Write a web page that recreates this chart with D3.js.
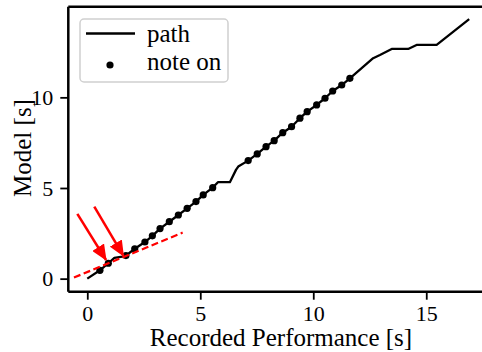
<!DOCTYPE html>
<html>
<head>
<meta charset="utf-8">
<script src="https://cdn.jsdelivr.net/npm/d3@7"></script>
<style>
  html, body { margin: 0; padding: 0; background: #fff; }
</style>
</head>
<body>
<div id="chart"></div>
<script>
// alignment path (recorded time -> model time)
const pathTime  = [0, 0.56, 0.93, 1.2, 1.55, 1.71, 2.10, 2.55, 2.88, 3.22, 3.63, 4.03, 4.42, 4.81, 5.13, 5.55,
                   5.78, 6.31, 6.58, 6.68, 7.12, 7.52, 7.91, 8.27, 8.65, 9.04, 9.41, 9.73, 10.15, 10.52, 10.86,
                   11.26, 11.62, 12.65, 12.95, 13.47, 14.2, 14.57, 15.46, 16.9];
const pathModel = [0, 0.46, 0.85, 1.15, 1.22, 1.27, 1.65, 2.02, 2.36, 2.76, 3.14, 3.51, 3.88, 4.25, 4.62, 5.02,
                   5.32, 5.32, 6.0, 6.18, 6.51, 6.88, 7.28, 7.61, 8.05, 8.38, 8.85, 9.21, 9.58, 9.95, 10.35,
                   10.68, 11.05, 12.16, 12.34, 12.67, 12.67, 12.89, 12.89, 14.31];

// note on events
const noteTime  = [0.56, 0.93, 1.71, 2.10, 2.55, 2.88, 3.22, 3.63, 4.03, 4.42, 4.81, 5.13, 5.55,
                   7.12, 7.52, 7.91, 8.27, 8.65, 9.04, 9.41, 9.73, 10.15, 10.52, 10.86, 11.26, 11.62];
const noteModel = [0.46, 0.85, 1.27, 1.65, 2.02, 2.36, 2.76, 3.14, 3.51, 3.88, 4.25, 4.62, 5.02,
                   6.51, 6.88, 7.28, 7.61, 8.05, 8.38, 8.85, 9.21, 9.58, 9.95, 10.35, 10.68, 11.05];

// red dashed tempo line
const tangentTime  = [-0.59, 4.22];
const tangentModel = [0.06, 2.54];

// red arrows: tail -> tip
const arrowTailTime  = [-0.44, 0.31];
const arrowTailModel = [3.57, 3.97];
const arrowTipTime   = [0.83, 1.6];
const arrowTipModel  = [1.03, 1.25];

const xTicks = [0, 5, 10, 15];
const yTicks = [0, 5, 10];

const width = 482, height = 352;
const plot = { left: 68.3, top: 6.7, bottom: 291.7, right: 488.4 };
const serif = '"Liberation Serif", "DejaVu Serif", serif';

const svg = d3.select('#chart').append('svg')
  .attr('width', width)
  .attr('height', height);

const x = d3.scaleLinear().domain([-0.84, 17.75]).range([plot.left, plot.right]);
const y = d3.scaleLinear().domain([-0.72, 15.0]).range([plot.bottom, plot.top]);

const defs = svg.append('defs');
defs.append('marker')
  .attr('id', 'head')
  .attr('markerUnits', 'userSpaceOnUse')
  .attr('viewBox', '0 0 16 14')
  .attr('refX', 15).attr('refY', 7)
  .attr('markerWidth', 16).attr('markerHeight', 14)
  .attr('orient', 'auto')
  .append('path')
  .attr('d', 'M0,0 L16,7 L0,14 Z')
  .attr('fill', '#ff0000');

// path line
const pts = pathTime.map((t, i) => [t, pathModel[i]]);
svg.append('path')
  .datum(pts)
  .attr('fill', 'none')
  .attr('stroke', '#000')
  .attr('stroke-width', 2.3)
  .attr('stroke-linejoin', 'round')
  .attr('d', d3.line().x(d => x(d[0])).y(d => y(d[1])));

// note on dots
svg.append('g').selectAll('circle')
  .data(noteTime.map((t, i) => [t, noteModel[i]]))
  .join('circle')
  .attr('cx', d => x(d[0]))
  .attr('cy', d => y(d[1]))
  .attr('r', 3.6)
  .attr('fill', '#000');

// dashed red line
svg.append('line')
  .attr('x1', x(tangentTime[0])).attr('y1', y(tangentModel[0]))
  .attr('x2', x(tangentTime[1])).attr('y2', y(tangentModel[1]))
  .attr('stroke', '#ff0000')
  .attr('stroke-width', 2.2)
  .attr('stroke-dasharray', '7,3.5');

// arrows
arrowTailTime.forEach((t, i) => {
  svg.append('line')
    .attr('x1', x(t)).attr('y1', y(arrowTailModel[i]))
    .attr('x2', x(arrowTipTime[i])).attr('y2', y(arrowTipModel[i]))
    .attr('stroke', '#ff0000')
    .attr('stroke-width', 2.5)
    .attr('marker-end', 'url(#head)');
});

// spines
svg.append('line').attr('x1', plot.left).attr('x2', width).attr('y1', plot.top).attr('y2', plot.top)
  .attr('stroke', '#000').attr('stroke-width', 2.5);

const xAxis = svg.append('g')
  .attr('transform', `translate(0,${plot.bottom})`)
  .call(d3.axisBottom(x).tickValues(xTicks).tickSize(8).tickFormat(d3.format('d')));
xAxis.attr('font-family', serif).attr('font-size', 22);
xAxis.select('.domain').remove();
xAxis.selectAll('line').attr('stroke', '#000').attr('stroke-width', 1.8);
xAxis.selectAll('text').attr('y', 29.5).attr('dy', 0).attr('fill', '#000');

const yAxis = svg.append('g')
  .attr('transform', `translate(${plot.left},0)`)
  .call(d3.axisLeft(y).tickValues(yTicks).tickSize(8).tickPadding(7).tickFormat(d3.format('d')));
yAxis.attr('font-family', serif).attr('font-size', 22);
yAxis.select('.domain').remove();
yAxis.selectAll('line').attr('stroke', '#000').attr('stroke-width', 1.8);
yAxis.selectAll('text').attr('dy', '0.33em').attr('fill', '#000');

svg.append('line').attr('x1', plot.left).attr('x2', width).attr('y1', plot.bottom).attr('y2', plot.bottom)
  .attr('stroke', '#000').attr('stroke-width', 2.5);
svg.append('line').attr('x1', plot.left).attr('x2', plot.left).attr('y1', plot.top).attr('y2', plot.bottom)
  .attr('stroke', '#000').attr('stroke-width', 2.5);

// axis labels
svg.append('text')
  .attr('x', 281).attr('y', 346)
  .attr('text-anchor', 'middle')
  .attr('font-family', serif).attr('font-size', 25)
  .text('Recorded Performance [s]');

svg.append('text')
  .attr('transform', 'translate(31,148) rotate(-90)')
  .attr('text-anchor', 'middle')
  .attr('font-family', serif).attr('font-size', 25)
  .text('Model [s]');

// legend
const legend = svg.append('g').attr('font-family', serif).attr('font-size', 25);
legend.append('rect')
  .attr('x', 80).attr('y', 19).attr('width', 148).attr('height', 63).attr('rx', 4)
  .attr('fill', '#fff').attr('fill-opacity', 0.8)
  .attr('stroke', '#d0d0d0').attr('stroke-width', 1.5);
legend.append('line')
  .attr('x1', 86).attr('x2', 135).attr('y1', 33.5).attr('y2', 33.5)
  .attr('stroke', '#000').attr('stroke-width', 2.3);
legend.append('circle')
  .attr('cx', 110).attr('cy', 65).attr('r', 3.6).attr('fill', '#000');
legend.append('text').attr('x', 147).attr('y', 41.5).text('path');
legend.append('text').attr('x', 147).attr('y', 70).text('note on');
</script>
</body>
</html>
